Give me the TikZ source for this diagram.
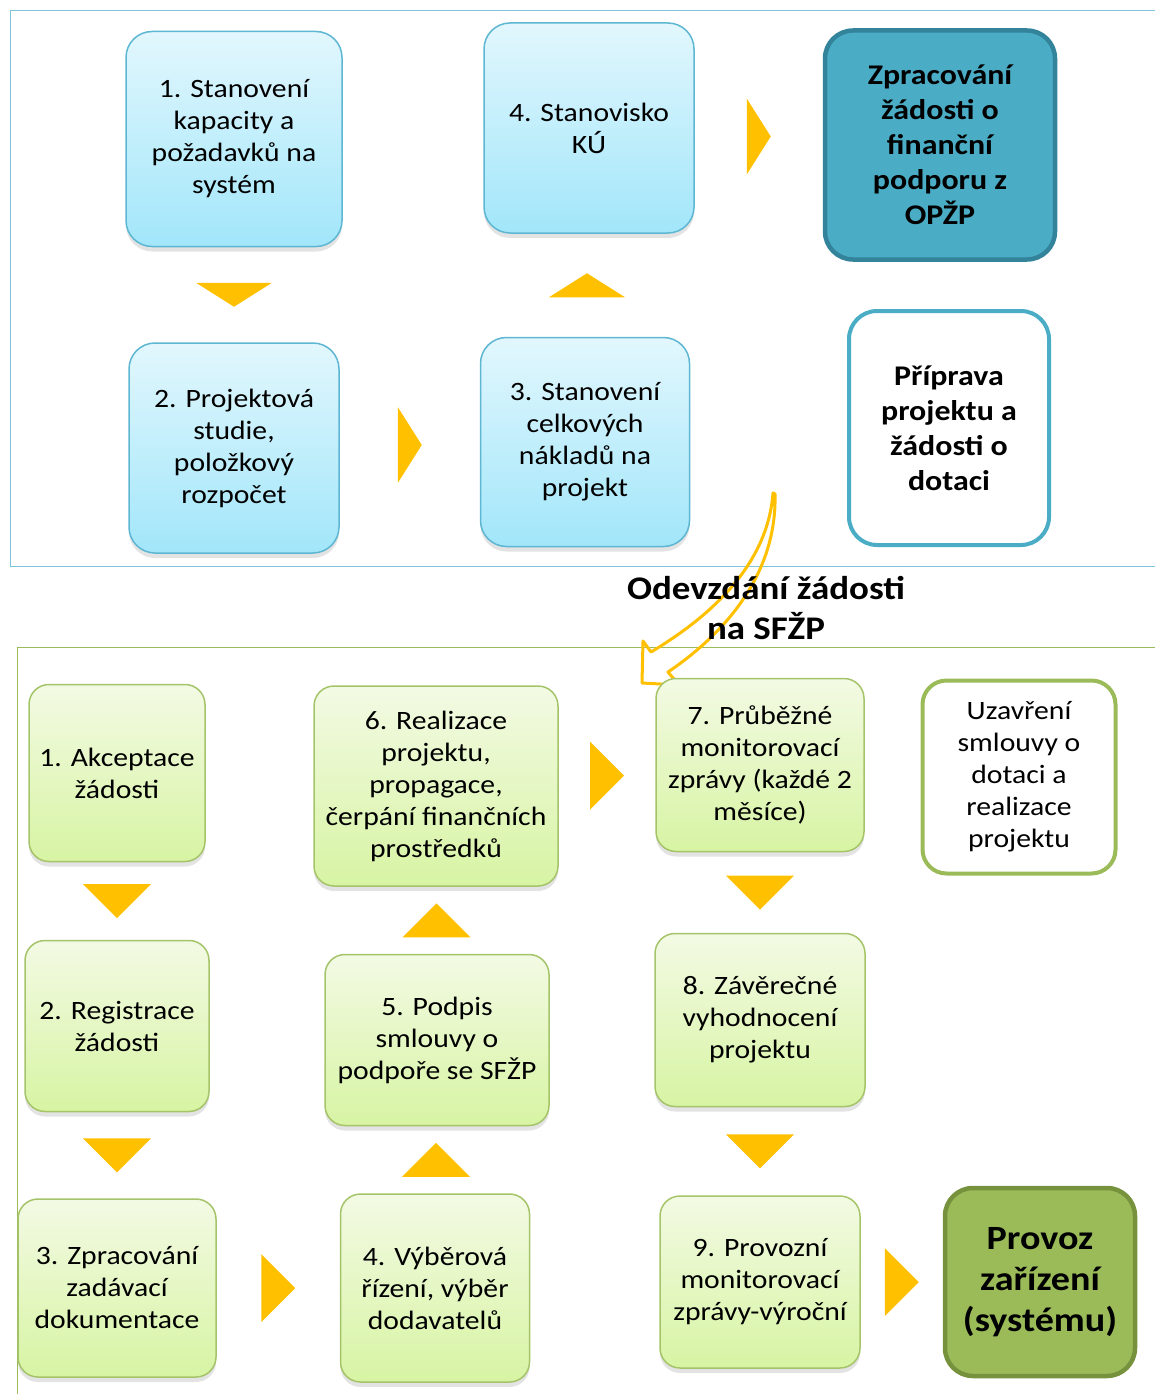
\documentclass[tikz,border=0pt]{standalone}
\usepackage{fontspec}
\setmainfont[FakeStretch=1.12]{Carlito}
\usetikzlibrary{calc,shadows}
\definecolor{gold}{HTML}{FFC000}
\definecolor{bluetop}{HTML}{E2F7FD}
\definecolor{bluebot}{HTML}{A2E6FA}
\definecolor{blueline}{HTML}{5DB6D2}
\definecolor{bluedark}{HTML}{4BACC6}
\definecolor{bluedeep}{HTML}{33849B}
\definecolor{greentop}{HTML}{F3FAE4}
\definecolor{greenbot}{HTML}{D7F4A3}
\definecolor{greenline}{HTML}{A5C46A}
\definecolor{greendark}{HTML}{9BBB59}
\definecolor{greendeep}{HTML}{76923C}

\tikzset{
  smalltri/.pic={\fill[gold] (-38,-12) -- (38,-12) -- (0,12) -- cycle;},
  bigtri/.pic={\fill[gold] (-34,-17) -- (34,-17) -- (0,17) -- cycle;},
}

\begin{document}
\begin{tikzpicture}[x=1pt,y=-1pt,
    softshadow/.style={drop shadow={opacity=0.22,shadow xshift=0pt,shadow yshift=-5pt}},
    bluebox/.style={draw=blueline,line width=1.5pt,rounded corners=26pt,
        top color=bluetop,bottom color=bluebot,align=center,
        font=\fontsize{26.5}{32}\selectfont,softshadow},
    greenbox/.style={draw=greenline,line width=1.5pt,rounded corners=20pt,
        top color=greentop,bottom color=greenbot,align=center,
        font=\fontsize{26.5}{32}\selectfont,softshadow},
    boldbox/.style={rounded corners=28pt,align=center,
        font=\fontsize{28.5}{35}\selectfont\bfseries}]
\useasboundingbox (0,0) rectangle (1154,1394);

% frames
\draw[blueline!80,line width=0.8pt] (10,10) rectangle (1170,566);
\draw[greendark,line width=0.8pt] (17,647) rectangle (1170,1420);

% project preparation
\node[bluebox,minimum width=216pt,minimum height=215pt] (t1) at (234,139)
    {1. Stanovení\\kapacity a\\požadavků na\\systém};
\node[bluebox,minimum width=210pt,minimum height=210pt] (t2) at (234,448)
    {2. Projektová\\studie,\\položkový\\rozpočet};
\node[bluebox,minimum width=209pt,minimum height=209pt] (t3) at (585,442)
    {3. Stanovení\\celkových\\nákladů na\\projekt};
\node[bluebox,minimum width=210pt,minimum height=210pt] (t4) at (589,128)
    {4. Stanovisko\\KÚ};
\node[boldbox,draw=bluedeep,line width=4.5pt,fill=bluedark,
    minimum width=230pt,minimum height=229pt] (tfin) at (940,145)
    {Zpracování\\žádosti o\\finanční\\podporu z\\OPŽP};
\node[boldbox,draw=bluedark,line width=4pt,fill=white,
    minimum width=200pt,minimum height=234pt] (tprep) at (949,428)
    {Příprava\\projektu a\\žádosti o\\dotaci};

\pic at ($(t1.south)!0.5!(t2.north)$) {smalltri};
\pic[rotate=90] at ($(t2.east)!0.5!(t3.west)$) {smalltri};
\pic[rotate=180] at ($(t3.north)!0.5!(t4.south)$) {smalltri};
\pic[rotate=90] at ($(t4.east)!0.5!(tfin.west)$) {smalltri};

% submission
\coordinate (sendtop) at (773,493);
\coordinate (sendtip) at (642,683);
\draw[gold,line width=3pt,line join=round]
    (sendtop) .. controls (768,560) and (718,612) .. (651,652)
    -- (643,641) -- (sendtip) -- (679,685) -- (668,672)
    .. controls (730,630) and (777,570) .. (775,494) -- cycle;
\node[align=center,font=\fontsize{33}{40}\selectfont\bfseries] (send) at (766,608)
    {Odevzdání žádosti\\na SFŽP};

% realization
\node[greenbox,minimum width=176pt,minimum height=177pt] (b1) at (117,773)
    {1. Akceptace\\žádosti};
\node[greenbox,minimum width=184pt,minimum height=171pt] (b2) at (117,1026)
    {2. Registrace\\žádosti};
\node[greenbox,minimum width=198pt,minimum height=178pt] (b3) at (117,1288)
    {3. Zpracování\\zadávací\\dokumentace};
\node[greenbox,minimum width=189pt,minimum height=188pt] (b4) at (435,1288)
    {4. Výběrová\\řízení, výběr\\dodavatelů};
\node[greenbox,minimum width=224pt,minimum height=171pt] (b5) at (437,1040)
    {5. Podpis\\smlouvy o\\podpoře se SFŽP};
\node[greenbox,minimum width=244pt,minimum height=200pt] (b6) at (436,786)
    {6. Realizace\\projektu,\\propagace,\\čerpání finančních\\prostředků};
\node[greenbox,minimum width=208pt,minimum height=173pt] (b7) at (760,765)
    {7. Průběžné\\monitorovací\\zprávy (každé 2\\měsíce)};
\node[greenbox,minimum width=210pt,minimum height=173pt] (b8) at (760,1020)
    {8. Závěrečné\\vyhodnocení\\projektu};
\node[greenbox,minimum width=200pt,minimum height=172pt] (b9) at (760,1282)
    {9. Provozní\\monitorovací\\zprávy-výroční};
\node[draw=greendark,line width=4pt,fill=white,rounded corners=24pt,align=center,
    font=\fontsize{26.5}{32}\selectfont,minimum width=193pt,minimum height=193pt]
    (bcontract) at (1019,777) {Uzavření\\smlouvy o\\dotaci a\\realizace\\projektu};
\node[boldbox,draw=greendeep,line width=4.5pt,fill=greendark,
    font=\fontsize{34}{41}\selectfont\bfseries,
    minimum width=190pt,minimum height=188pt] (bop) at (1040,1282)
    {Provoz\\zařízení\\(systému)};

\pic at ($(b1.south)!0.5!(b2.north)$) {bigtri};
\pic at ($(b2.south)!0.5!(b3.north)$) {bigtri};
\pic[rotate=90] at ($(b3.east)!0.5!(b4.west)$) {bigtri};
\pic[rotate=180] at ($(b4.north)!0.5!(b5.south)$) {bigtri};
\pic[rotate=180] at ($(b5.north)!0.5!(b6.south)$) {bigtri};
\pic[rotate=90] at ($(b6.east)!0.5!(b7.west)$) {bigtri};
\pic at ($(b7.south)!0.5!(b8.north)$) {bigtri};
\pic at ($(b8.south)!0.5!(b9.north)$) {bigtri};
\pic[rotate=90] at ($(b9.east)!0.5!(bop.west)$) {bigtri};
\end{tikzpicture}
\end{document}
